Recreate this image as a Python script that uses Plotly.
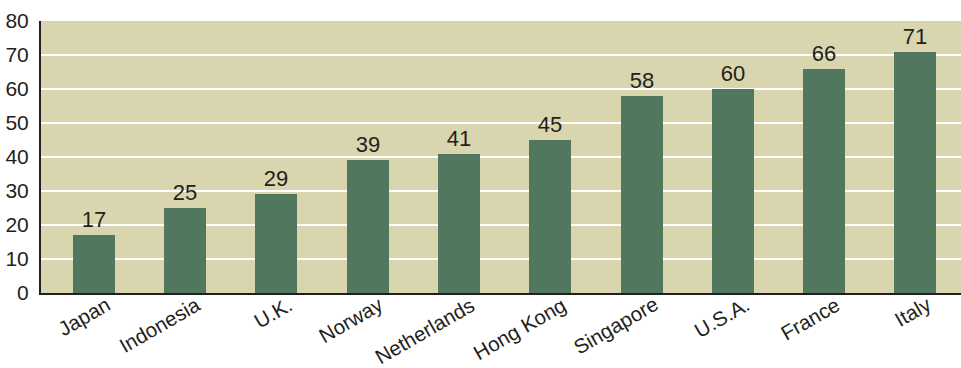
import plotly.graph_objects as go

countries = ["Japan", "Indonesia", "U.K.", "Norway", "Netherlands",
             "Hong Kong", "Singapore", "U.S.A.", "France", "Italy"]
values = [17, 25, 29, 39, 41, 45, 58, 60, 66, 71]
y_ticks = [0, 10, 20, 30, 40, 50, 60, 70, 80]

BG = "#D9D5AF"
BAR = "#52775F"
INK = "#231F20"
FONT = "Liberation Sans, Arial, sans-serif"

fig = go.Figure(go.Bar(
    x=countries,
    y=values,
    width=0.46,
    marker=dict(color=BAR, line=dict(width=0)),
    text=[str(v) for v in values],
    textposition="outside",
    textfont=dict(family=FONT, size=22, color=INK),
    cliponaxis=False,
))

# slanted category labels, right end tucked just past each bar centre
for c in countries:
    fig.add_annotation(
        x=c, y=0, xref="x", yref="y",
        text=c, textangle=-30, showarrow=False,
        xanchor="right", yanchor="top",
        xshift=21, yshift=2,
        borderpad=0,
        font=dict(family=FONT, size=20.5, color=INK),
    )

fig.update_layout(
    width=961, height=368,
    margin=dict(l=41, r=0, t=21, b=75),
    paper_bgcolor="white",
    plot_bgcolor=BG,
    showlegend=False,
    bargap=0,
    font=dict(family=FONT, size=20, color=INK),
    xaxis=dict(
        range=[-0.58, 9.5],
        automargin=False,
        showline=True, linecolor=INK, linewidth=2,
        ticks="", showgrid=False,
        showticklabels=False,
    ),
    yaxis=dict(
        range=[0, 80],
        tickvals=y_ticks,
        automargin=False,
        showline=True, linecolor=INK, linewidth=2,
        showgrid=True, gridcolor="white", gridwidth=2,
        zeroline=False,
        ticks="", ticklabelstandoff=6,
        tickfont=dict(size=21, color=INK),
    ),
)

fig.write_html("out.html")
